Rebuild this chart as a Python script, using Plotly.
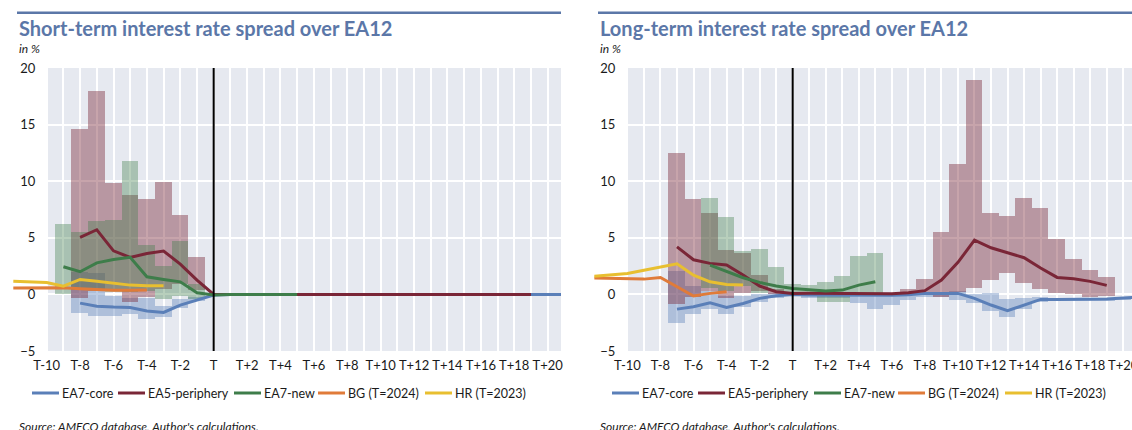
import plotly.graph_objects as go

N = None
# ---------------- categories ----------------
categories = ["T-12", "T-11", "T-10", "T-9", "T-8", "T-7", "T-6", "T-5", "T-4", "T-3", "T-2", "T-1", "T",
              "T+1", "T+2", "T+3", "T+4", "T+5", "T+6", "T+7", "T+8", "T+9", "T+10", "T+11", "T+12",
              "T+13", "T+14", "T+15", "T+16", "T+17", "T+18", "T+19", "T+20", "T+21"]
shown_ticks = ["T-10", "T-8", "T-6", "T-4", "T-2", "T", "T+2", "T+4", "T+6", "T+8", "T+10",
               "T+12", "T+14", "T+16", "T+18", "T+20"]
y_ticks = [-5, 0, 5, 10, 15, 20]
series_names = ["EA7-core", "EA5-periphery", "EA7-new", "BG (T=2024)", "HR (T=2023)"]

# ---------------- short-term spread (left) ----------------
st_core = [N, N, N, N, -0.77, -1.04, -1.12, -1.15, -1.47, -1.59, -0.94, -0.50, -0.06,
           0, 0, 0, 0, 0, 0, 0, 0, 0, 0, 0, 0, 0, 0, 0, 0, 0, 0, 0, 0, 0]
st_periph = [N, N, N, N, 5.03, 5.71, 3.85, 3.27, 3.62, 3.83, 2.67, 1.26, 0.0,
             0, 0, 0, 0, 0, 0, 0, 0, 0, 0, 0, 0, 0, 0, 0, 0, 0, 0, 0, N, N]
st_new = [N, N, N, 2.44, 2.0, 2.79, 3.09, 3.27, 1.56, 1.32, 1.11, 0.14, -0.05,
          0, 0, 0, 0, 0, N, N, N, N, N, N, N, N, N, N, N, N, N, N, N, N]
st_bg = [0.57, 0.58, 0.6, 0.58, 0.5, 0.44, 0.36, 0.37, 0.38,
         N, N, N, N, N, N, N, N, N, N, N, N, N, N, N, N, N, N, N, N, N, N, N, N, N]
st_hr = [1.17, 1.1, 1.05, 0.73, 1.32, 1.17, 0.97, 0.82, 0.76, 0.76,
         N, N, N, N, N, N, N, N, N, N, N, N, N, N, N, N, N, N, N, N, N, N, N, N]

st_core_lo = [N, N, N, N, -1.6, -1.9, -1.9, -1.7, -2.2, -2.0, -1.2, -0.6] + [N] * 22
st_core_hi = [N, N, N, N, 2.0, 1.9, -0.1, -0.3, -0.3, -1.0, -0.4, -0.2] + [N] * 22
st_periph_lo = [N, N, N, N, -0.3, 0.3, 0.3, -0.7, -0.2, 0.5, 0.9, 0.4] + [N] * 22
st_periph_hi = [N, N, N, N, 14.6, 18.0, 9.8, 8.8, 8.4, 9.9, 7.0, 3.3] + [N] * 22
st_new_lo = [N, N, N, 0.05, 0.4, 0.4, 0.2, 0.2, 0.3, -0.4, -0.1, -0.4] + [N] * 22
st_new_hi = [N, N, N, 6.2, 5.5, 6.5, 6.6, 11.8, 4.4, 2.5, 4.7, 0.9] + [N] * 22

# ---------------- long-term spread (right) ----------------
lt_core = [N, N, N, N, N, -1.3, -1.09, -0.74, -1.15, -0.8, -0.35, -0.12, 0.0,
           -0.05, -0.05, -0.05, -0.04, -0.1, -0.08, -0.03, 0.09, 0.09, 0.09, -0.35, -0.94,
           -1.44, -0.94, -0.44, -0.44, -0.44, -0.43, -0.41, -0.32, -0.25]
lt_periph = [N, N, N, N, N, 4.2, 3.06, 2.74, 2.59, 1.71, 0.74, 0.24, 0.09,
             0.1, 0.08, 0.06, 0.05, 0.04, 0.05, 0.15, 0.33, 1.27, 2.83, 4.8, 4.12,
             3.68, 3.24, 2.33, 1.5, 1.38, 1.15, 0.8, N, N]
lt_new = [N, N, N, N, N, N, N, 2.59, 2.0, 1.47, 1.06, 0.74, 0.53,
          0.44, 0.3, 0.38, 0.82, 1.12, N, N, N, N, N, N, N, N, N, N, N, N, N, N, N, N]
lt_bg = [1.45, 1.42, 1.41, 1.35, 1.5, 0.68, -0.14, 0.09, 0.24,
         N, N, N, N, N, N, N, N, N, N, N, N, N, N, N, N, N, N, N, N, N, N, N, N, N]
lt_hr = [1.6, 1.72, 1.85, 2.14, 2.44, 2.7, 1.7, 1.11, 0.88, 0.82,
         N, N, N, N, N, N, N, N, N, N, N, N, N, N, N, N, N, N, N, N, N, N, N, N]

lt_core_lo = [N, N, N, N, N, -2.5, -1.7, -1.3, -1.7, -1.1, -0.7, -0.3, -0.1,
              -0.3, -0.3, -0.3, -0.75, -1.25, -0.95, -0.5, -0.2, -0.25, -0.5, -0.75, -1.5,
              -2.0, -1.25, -0.65, -0.6, -0.6, -0.6, -0.55, -0.5, -0.45]
lt_core_hi = [N, N, N, N, N, 2.1, 0.7, 0.3, -0.1, -0.1, 0.0, 0.1, 0.1,
              0.0, 0.0, 0.0, -0.1, -0.1, -0.05, -0.05, 0.1, 0.25, 0.3, 0.0, 0.1,
              -0.4, -0.35, -0.2, -0.3, -0.3, -0.3, -0.3, -0.2, -0.15]
lt_periph_lo = [N, N, N, N, N, -0.86, -0.2, 0.3, -0.3, 0.1, 0.3, 0.05, 0.0,
                0.0, 0.0, 0.0, -0.05, -0.05, 0.0, 0.0, 0.09, -0.2, 0.2, 0.53, 1.27,
                1.86, 1.03, 0.44, 0.1, 0.0, -0.2, -0.1, N, N]
lt_periph_hi = [N, N, N, N, N, 12.45, 8.4, 7.2, 3.9, 3.7, 1.7, 0.5, 0.25,
                0.2, 0.15, 0.15, 0.15, 0.1, 0.15, 0.47, 1.36, 5.5, 11.5, 18.9, 7.2,
                6.9, 8.5, 7.6, 4.9, 3.1, 2.2, 1.5, N, N]
lt_new_lo = [N, N, N, N, N, N, N, 0.6, 0.3, 0.7, 0.1, 0.3, 0.1,
             0.0, -0.65, -0.65, -0.1, 0.1] + [N] * 16
lt_new_hi = [N, N, N, N, N, N, N, 8.5, 6.8, 3.8, 4.0, 2.4, 0.9,
             0.85, 1.1, 1.6, 3.4, 3.65] + [N] * 16

# ---------------- styling ----------------
FONT = "Lato"
LINE_COLORS = ["#5a7fb8", "#7a2637", "#3e7d4a", "#e07b39", "#e8bf30"]
F_CORE = "rgba(90,127,184,0.40)"
F_PER = "rgba(122,38,55,0.42)"
F_NEW = "rgba(62,125,74,0.37)"
PLOT_BG = "#e6e9f0"
TITLE_C = "#5b77a8"
TXT = "#1a1a1a"
W, H = 1132, 430

pos = [i - categories.index("T") for i in range(len(categories))]
tick_text = [c if c in shown_ticks else "" for c in categories]

fig = go.Figure()


def add_band(lo, hi, color, xa, ya):
    idx = [i for i in range(len(categories)) if lo[i] is not None]
    fig.add_trace(go.Bar(x=[pos[i] for i in idx], y=[hi[i] - lo[i] for i in idx],
                         base=[lo[i] for i in idx], width=1,
                         marker=dict(color=color, line=dict(width=0)),
                         showlegend=False, hoverinfo="skip", xaxis=xa, yaxis=ya))


def add_line(vals, color, name, xa, ya):
    fig.add_trace(go.Scatter(x=pos, y=vals, mode="lines", name=name,
                             line=dict(color=color, width=3), connectgaps=False,
                             showlegend=False, xaxis=xa, yaxis=ya))


for (xa, ya, ya_lab, bands, lines) in [
    ("x", "y", "y3",
     [(st_core_lo, st_core_hi, F_CORE), (st_periph_lo, st_periph_hi, F_PER), (st_new_lo, st_new_hi, F_NEW)],
     [st_core, st_periph, st_new, st_bg, st_hr]),
    ("x2", "y2", "y4",
     [(lt_core_lo, lt_core_hi, F_CORE), (lt_periph_lo, lt_periph_hi, F_PER), (lt_new_lo, lt_new_hi, F_NEW)],
     [lt_core, lt_periph, lt_new, lt_bg, lt_hr]),
]:
    for lo, hi, c in bands:
        add_band(lo, hi, c, xa, ya)
    for k, (vals, c, nm) in enumerate(zip(lines, LINE_COLORS, series_names)):
        # BG / HR series start before T-10 and are drawn on the label axis overlay
        add_line(vals, c, nm, xa, ya if k < 3 else ya_lab)

# geometry (pixels)
L_left, L_gray, L_right = 8.3, 47.3, 561.0
R_left, R_gray = 589.4, 627.3
top_px, bot_px = 68.0, 351.0
ydom = [(H - bot_px) / H, (H - top_px) / H]
x_lo = -12.3
L_hi = 20.8
R_hi = 20.53

axis_common = dict(tickmode="array", tickvals=pos, ticktext=tick_text, tickangle=0, showgrid=True,
                   gridcolor="white", gridwidth=1.5, zeroline=False, showline=False, ticks="",
                   tickfont=dict(size=13, color=TXT), automargin=False, ticklabelstandoff=5,
                   ticklabeloverflow="allow")
yaxis_common = dict(domain=ydom, range=[-5, 20], tickvals=y_ticks, showticklabels=False,
                    showgrid=True, gridcolor="white", gridwidth=1.5, zeroline=False, showline=False,
                    automargin=False)
ylab_common = dict(range=[-5, 20], tickvals=y_ticks, showgrid=False, zeroline=False, showline=False,
                   anchor="free", side="left", ticks="", tickfont=dict(size=13, color=TXT),
                   ticklabelstandoff=12, automargin=False, autoshift=False)

fig.update_layout(
    width=W, height=H, margin=dict(l=0, r=0, t=0, b=0, autoexpand=False),
    paper_bgcolor="white", plot_bgcolor="rgba(0,0,0,0)",
    font=dict(family=FONT, color=TXT),
    barmode="overlay", bargap=0, showlegend=False,
    xaxis=dict(domain=[L_left / W, L_right / W], range=[x_lo, L_hi], anchor="y", **axis_common),
    xaxis2=dict(domain=[R_left / W, 1.0], range=[x_lo, R_hi], anchor="y2", **axis_common),
    yaxis=dict(anchor="x", **yaxis_common),
    yaxis2=dict(anchor="x2", **yaxis_common),
    yaxis3=dict(overlaying="y", position=L_gray / W, **ylab_common),
    yaxis4=dict(overlaying="y2", position=R_gray / W, **ylab_common),
)

t_pos = pos[categories.index("T")]
first = pos[categories.index("T-10")]
shapes = [
    dict(type="rect", xref="x", yref="y domain", x0=first, x1=L_hi, y0=0, y1=1,
         fillcolor=PLOT_BG, line=dict(width=0), layer="below"),
    dict(type="rect", xref="x2", yref="y2 domain", x0=first, x1=R_hi, y0=0, y1=1,
         fillcolor=PLOT_BG, line=dict(width=0), layer="below"),
    dict(type="line", xref="x", yref="y domain", x0=t_pos, x1=t_pos, y0=0, y1=1,
         line=dict(color="black", width=2), layer="above"),
    dict(type="line", xref="x2", yref="y2 domain", x0=t_pos, x1=t_pos, y0=0, y1=1,
         line=dict(color="black", width=2), layer="above"),
    dict(type="line", xref="paper", yref="paper", x0=17 / W, x1=561 / W, y0=1 - 12.7 / H, y1=1 - 12.7 / H,
         line=dict(color=TITLE_C, width=2.5)),
    dict(type="line", xref="paper", yref="paper", x0=598 / W, x1=1.0, y0=1 - 12.7 / H, y1=1 - 12.7 / H,
         line=dict(color=TITLE_C, width=2.5)),
]

ann = []
# legend (drawn as line keys + text, positioned as in the reference)
legend_line_px = [32, 118, 234, 318, 425]
legend_y = 1 - 393 / H
for offset in [0, 580]:
    for nm, c, lx in zip(series_names, LINE_COLORS, legend_line_px):
        x0 = lx + offset
        shapes.append(dict(type="line", xref="paper", yref="paper", x0=x0 / W, x1=(x0 + 27) / W,
                           y0=legend_y, y1=legend_y, line=dict(color=c, width=3)))
        ann.append(dict(xref="paper", yref="paper", x=(x0 + 28) / W, y=legend_y, xanchor="left",
                        yanchor="middle", text=nm, showarrow=False,
                        font=dict(size=12.5, color=TXT, family=FONT)))
fig.update_layout(shapes=shapes)

for x0, title in [(17, "Short-term interest rate spread over EA12"), (598, "Long-term interest rate spread over EA12")]:
    ann.append(dict(xref="paper", yref="paper", x=x0 / W, y=1 - 28 / H, xanchor="left", yanchor="middle",
                    text="<b>" + title + "</b>", showarrow=False,
                    font=dict(size=20, color=TITLE_C, family=FONT)))
    ann.append(dict(xref="paper", yref="paper", x=x0 / W, y=1 - 48 / H, xanchor="left", yanchor="middle",
                    text="<i>in %</i>", showarrow=False, font=dict(size=12, color=TXT, family=FONT)))
    ann.append(dict(xref="paper", yref="paper", x=x0 / W, y=1 - 426 / H, xanchor="left", yanchor="middle",
                    text="<i>Source: AMECO database, Author's calculations.</i>", showarrow=False,
                    font=dict(size=12, color=TXT, family=FONT)))
fig.update_layout(annotations=ann)

fig.write_html("out.html", config={"displayModeBar": False},
               post_script="document.body.style.margin='0';")
